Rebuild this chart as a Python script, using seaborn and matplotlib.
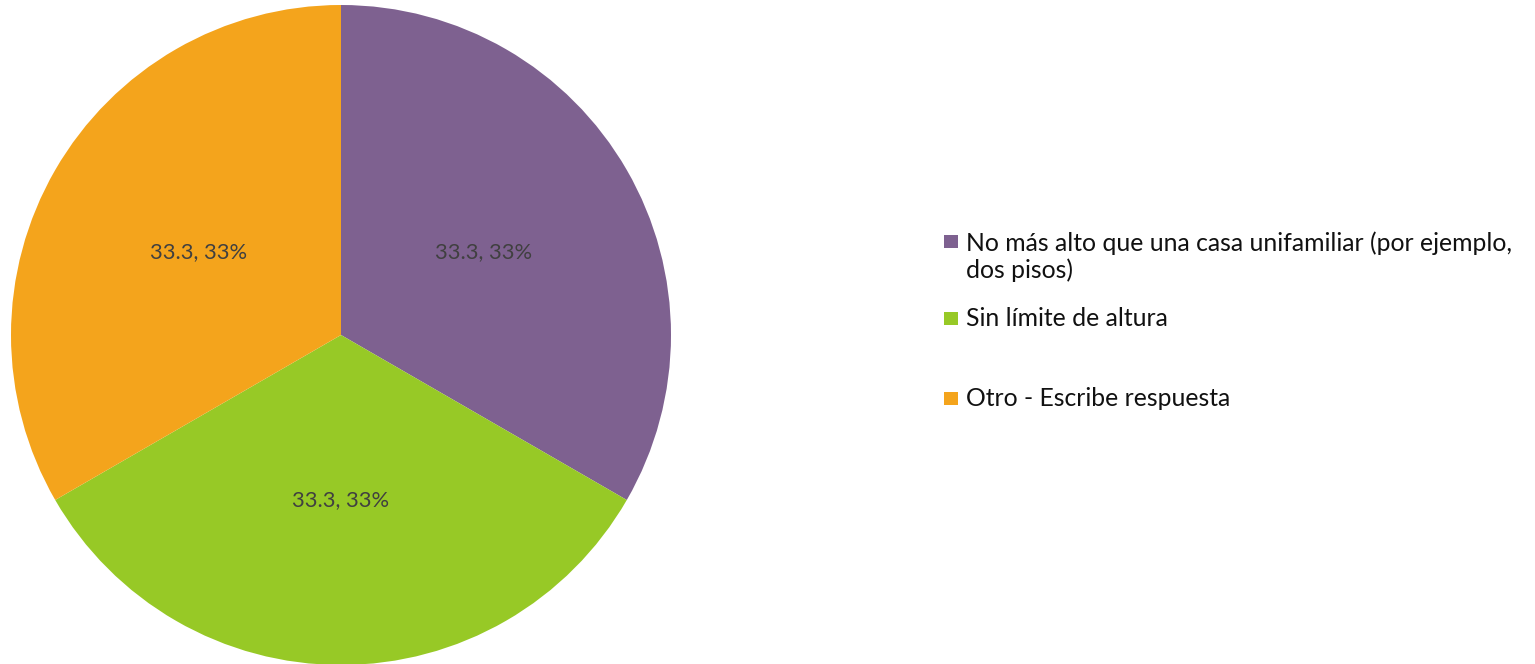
import matplotlib
matplotlib.use("Agg")
import matplotlib.pyplot as plt
import seaborn as sns
import numpy as np
from matplotlib.patches import Rectangle

sns.set_theme(style="white")
plt.rcParams["font.family"] = ["Lato", "DejaVu Sans"]

# Survey answers and their shares
categories = [
    "No más alto que una casa unifamiliar (por ejemplo,\ndos pisos)",
    "Sin límite de altura",
    "Otro - Escribe respuesta",
]
values = [33.3, 33.3, 33.3]
percent_labels = ["33%", "33%", "33%"]
colors = ["#7E6190", "#97C926", "#F4A41C"]

W, H = 1535, 664
fig = plt.figure(figsize=(W / 100, H / 100), dpi=100)
fig.patch.set_facecolor("white")

ax = fig.add_axes([11 / W, -1 / H, 660 / W, 660 / H])
wedges, _ = ax.pie(
    values,
    colors=colors,
    startangle=90,
    counterclock=False,
    radius=1.0,
    wedgeprops=dict(linewidth=0),
)
ax.set_aspect("equal")
ax.set_xlim(-1, 1)
ax.set_ylim(-1, 1)
ax.axis("off")

# Data labels at half radius in the middle of each wedge
for w, v, p in zip(wedges, values, percent_labels):
    ang = np.deg2rad((w.theta1 + w.theta2) / 2)
    ax.text(0.5 * np.cos(ang), 0.5 * np.sin(ang), f"{v}, {p}",
            ha="center", va="center", fontsize=15.8, color="#404040")

# Legend on the right: marker aligned with the first line of each entry
legend_fs = 17.8
line_px = legend_fs * 1.2 * 100 / 72
first_line_y = [241, 318, 398]
for cat, col, yc in zip(categories, colors, first_line_y):
    fig.patches.append(Rectangle((944 / W, 1 - (yc + 6.5) / H), 14 / W, 13 / H,
                                 transform=fig.transFigure, facecolor=col,
                                 edgecolor="none"))
    n_lines = cat.count("\n") + 1
    text_center = yc + 1 + (n_lines - 1) * line_px / 2
    fig.text(966 / W, 1 - text_center / H, cat, ha="left", va="center",
             fontsize=legend_fs, color="#111111", linespacing=1.2)

fig.savefig("out.png", dpi=100, facecolor="white")
